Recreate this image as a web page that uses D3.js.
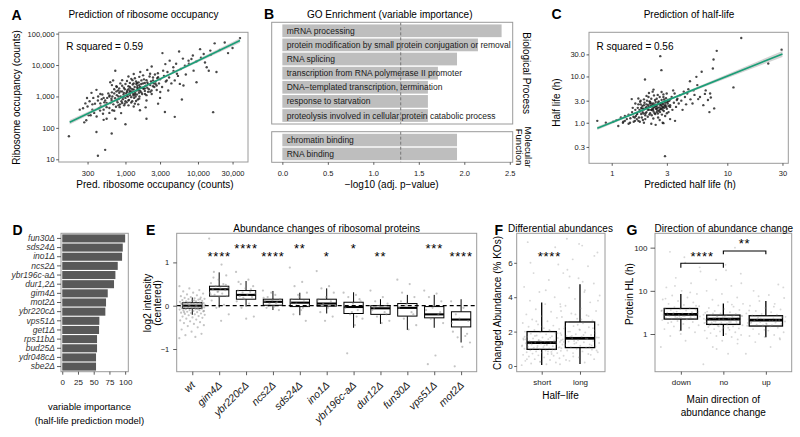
<!DOCTYPE html>
<html><head><meta charset="utf-8">
<script src="https://cdn.jsdelivr.net/npm/d3@7"></script>
<style>body{margin:0;background:#fff;}svg{display:block;}</style>
</head><body>
<script>
// ---------------- DATA ----------------
// Panel A: predicted vs observed ribosome occupancy (counts)
const occPoints = [[166,54],[234,380],[295,890],[288,174],[331,251],[398,74],[417,13],[525,20],[398,1620],[417,740],[457,480],[490,280],[550,195],[646,66],[447,355],[380,590],[525,740],[550,457],[603,1070],[646,740],[661,363],[724,195],[759,740],[676,3240],[759,2000],[724,6600],[617,2820],[794,1550],[832,457],[871,295],[933,955],[977,590],[1047,1380],[1096,740],[1148,2000],[1202,3630],[1288,1070],[1349,590],[1413,2510],[1514,1550],[1549,851],[1585,363],[1660,3240],[1778,1740],[1862,1200],[1950,741],[2042,2510],[2188,5250],[2291,1550],[2399,3240],[2692,2240],[2818,4070],[3020,1380],[3311,6610],[3548,10700],[3236,24000],[3715,3240],[3890,1550],[4074,13800],[4571,8510],[5129,5250],[5495,27000],[4786,3240],[5623,2510],[6310,2240],[6607,9550],[7413,13800],[8128,15500],[8710,6610],[9550,2820],[10700,32000],[12000,22400],[13200,8500],[14800,28800],[14100,6600],[17000,49000],[16200,316],[4786,224],[2818,589],[1950,195],[23400,52000],[38000,72000],
[260,420],[280,600],[300,480],[320,700],[350,560],[370,300],[360,900],[340,1300],[310,250],[270,150],[420,1000],[430,420],[450,600],[470,820],[480,1150],[500,380],[510,650],[530,520],[560,900],[580,1250],[600,430],[620,620],[640,850],[660,1000],[680,560],[700,1250],[720,880],[740,470],[760,1100],[780,650],[800,820],[820,1300],[840,560],[860,1000],[880,700],[900,1450],[920,820],[940,1150],[960,520],[980,1700],[1000,900],[1020,1250],[1040,650],[1060,1550],[1080,1000],[1100,2100],[1120,780],[1140,1350],[1160,1100],[1180,1800],[1200,950],[1220,1450],[1240,700],[1260,2400],[1280,1200],[1300,1650],[1320,900],[1340,2000],[1360,1300],[1380,1000],[1400,3000],[1420,1550],[1440,1150],[1460,2200],[1480,800],[1500,1800],[1520,2800],[1540,1300],[1560,1000],[1580,2000],[1600,1500],[1650,2500],[1700,1200],[1750,1900],[1800,3500],[1850,1500],[1900,2200],[1950,1100],[2000,2800],[2100,1700],[2200,2300],[2300,1200],[2400,4000],[2500,2000],[2600,3000],[2700,1600],[2800,5500],[2900,2600],[3000,3500],[3200,2000],[3400,4500],[3600,3000],[3800,6000],[4000,4000],[4300,2600],[4600,6500],[5000,11000],[5300,4500],[5800,7500],[6200,16000],[6800,5000],[7500,11000],[8500,20000],[9500,13000],[11000,17000],[12500,12000],[15000,21000],[18000,6000],[20000,30000],[26000,24000],[30000,35000],
[700,1700],[750,2100],[820,1800],[850,2600],[900,2200],[950,1900],[1000,2500],[1050,3100],[1100,1700],[1150,2700],[1250,3300],[1300,2600],[1350,3800],[1450,2700],[1550,4200],[1650,1900],[1750,4700],[1850,2700],[1950,3300],[2050,1400],[2150,4300],[2250,3000],[2450,2600],[2550,5000],[2750,3800],[600,1000],[650,1350],[750,1450],[800,1000],[850,1450],[950,1300],[1050,1050],[1150,1500],[1250,1700],[1350,1150],[1450,1900],[1550,2300],[1650,1350],[1750,2600],[1850,1800],[2000,1900],[2200,1400],[2400,2100],[2600,2500],[800,520],[900,620],[1000,700],[1100,520],[1200,640],[1300,480],[1400,720],[1500,560],[700,350],[600,300],[550,620],[500,900],[450,1200],[650,2300],[900,3300],[1100,4300],[1300,5200],[1600,6000],[2000,7000],[2300,9000],[1000,130],[1900,450],[3000,900],[3500,320],[6000,800],[400,230],[350,380],[500,180]];
const occFit = [{x:170,fit:150,lo:127,hi:177},{x:1500,fit:1670,lo:1600,hi:1745},{x:38000,fit:60000,lo:51000,hi:70500}];
const rSquaredA = "0.59";
const occXTicks = [300,1000,3000,10000,30000];
const occYTicks = [10,100,1000,10000,100000];

// Panel B: GO enrichment
const bpTerms = ["mRNA processing","protein modification by small protein conjugation or removal","RNA splicing","transcription from RNA polymerase II promoter","DNA\u2212templated transcription, termination","response to starvation","proteolysis involved in cellular protein catabolic process"];
const bpValues = [2.41,2.15,1.92,1.71,1.60,1.60,1.60];
const mfTerms = ["chromatin binding","RNA binding"];
const mfValues = [1.92,1.92];
const goThreshold = 1.301;
const goXTicks = [0,0.5,1,1.5,2,2.5];

// Panel C: predicted vs observed half-life (h)
const hlPoints = [[0.75,1.10],[0.89,1.0],[1.03,1.05],[1.14,0.85],[1.10,1.14],[1.26,1.05],[1.35,1.2],[1.44,1.0],[1.54,1.35],[1.59,1.1],[1.65,1.59],[1.49,3.24],[1.70,3.35],[1.76,2.84],[1.82,2.04],[1.88,1.59],[1.90,1.0],[1.94,8.6],[2.0,2.2],[2.08,3.6],[2.14,2.6],[2.21,1.88],[2.26,4.7],[2.29,1.24],[2.37,3.1],[2.45,2.29],[2.51,1.59],[2.63,27.5],[2.69,13.7],[2.76,1.0],[2.8,3.6],[2.89,0.19],[2.99,4.3],[3.09,3.1],[3.2,2.2],[3.4,5.0],[3.53,1.1],[3.66,3.1],[3.9,3.95],[4.2,4.7],[4.5,4.3],[4.75,7.9],[5.1,5.0],[5.4,9.8],[5.6,3.24],[6.0,12.6],[6.4,4.2],[6.8,3.1],[7.1,4.3],[7.5,14.9],[7.6,23.3],[7.7,2.04],[8.1,35.8],[11.3,5.8],[13.2,68],[22.6,19],[29.5,38],
[1.2,1.3],[1.3,1.1],[1.4,1.5],[1.45,1.25],[1.5,1.7],[1.55,1.05],[1.6,1.9],[1.62,1.4],[1.68,2.1],[1.72,1.3],[1.75,1.75],[1.78,2.5],[1.8,1.55],[1.84,2.3],[1.86,1.15],[1.9,1.95],[1.92,2.7],[1.95,1.45],[1.97,2.1],[2.0,1.7],[2.02,3.0],[2.05,1.35],[2.07,2.4],[2.1,1.9],[2.12,2.9],[2.15,1.6],[2.18,2.3],[2.2,3.3],[2.22,1.45],[2.25,2.0],[2.28,2.6],[2.3,1.75],[2.32,3.9],[2.35,2.2],[2.38,1.55],[2.4,2.8],[2.42,2.0],[2.45,3.3],[2.48,1.85],[2.5,2.5],[2.52,1.3],[2.55,2.9],[2.58,2.15],[2.6,3.6],[2.62,1.7],[2.65,2.4],[2.68,2.0],[2.7,3.1],[2.72,1.5],[2.75,2.6],[2.78,2.2],[2.8,4.1],[2.82,1.8],[2.85,2.9],[2.88,2.3],[2.9,1.4],[2.95,3.4],[3.0,2.0],[3.05,2.6],[3.1,1.7],[3.15,3.0],[3.2,2.4],[3.3,3.6],[3.35,1.9],[3.45,2.7],[3.5,4.3],[3.6,2.2],[3.7,3.3],[3.8,2.6],[4.0,3.0],[4.1,1.9],[4.3,3.6],[4.4,2.5],[4.6,5.3],[4.8,3.2],[5.0,2.6],[5.2,4.0],[5.5,6.5],[5.8,3.6],[6.2,2.4],[6.5,5.0],[7.0,1.7],[7.2,3.5],
[1.65,1.2],[1.7,2.5],[1.75,1.05],[1.8,2.1],[1.85,1.7],[1.9,2.4],[1.95,1.2],[2.0,2.5],[2.05,1.9],[2.1,2.2],[2.15,2.8],[2.2,1.9],[2.25,2.4],[2.3,2.1],[2.35,1.6],[2.4,2.3],[2.45,1.7],[2.5,2.1],[2.55,1.8],[2.6,2.5],[2.65,2.0],[2.7,2.3],[2.75,1.9],[2.8,2.5],[2.85,2.1],[2.9,2.7],[2.95,2.2],[3.0,2.8],[3.1,2.3],[3.2,3.2],[1.58,1.3],[1.66,1.55],[1.74,1.9],[1.82,1.3],[1.88,2.0],[1.96,1.6],[2.04,2.1],[2.12,1.5],[2.2,2.6],[2.28,1.9],[2.36,2.5],[2.44,2.0],[2.52,2.7],[2.6,1.9],[2.68,2.6],[2.76,2.1],[2.84,3.2],[2.92,2.4],[3.0,1.6],[3.08,2.9],[1.52,2.1],[1.6,2.6],[1.7,1.1],[1.78,3.0],[1.9,3.2],[2.0,3.8],[2.1,4.4],[2.3,5.2],[2.5,4.0],[2.7,4.6],[2.2,0.95],[2.4,0.9],[2.6,1.15],[2.8,0.98],[3.2,1.2],[1.4,0.95],[1.3,1.4],[1.25,1.0]];
const hlFit = [{x:0.75,fit:0.76,lo:0.70,hi:0.83},{x:2.5,fit:2.53,lo:2.45,hi:2.61},{x:30,fit:30.6,lo:26.5,hi:35.5}];
const rSquaredC = "0.56";
const hlXTicks = [1,3,10,30];
const hlYTicks = [0.3,1,3,10,30];

// Panel D: variable importance
const koNames = ["fun30\u0394","sds24\u0394","ino1\u0394","ncs2\u0394","ybr196c-a\u0394","dur1,2\u0394","gim4\u0394","mot2\u0394","ybr220c\u0394","vps51\u0394","get1\u0394","rps11b\u0394","bud25\u0394","ydr048c\u0394","sbe2\u0394"];
const koImportance = [100,96.2,95.1,88.2,84.5,82.3,72.3,69.6,68.5,59,58.5,55.3,55.3,53.7,53.7];
const impTicks = [0,25,50,75,100];

// Panel E: abundance changes of ribosomal proteins
const eStrains = ["wt","gim4\u0394","ybr220c\u0394","ncs2\u0394","sds24\u0394","ino1\u0394","ybr196c-a\u0394","dur12\u0394","fun30\u0394","vps51\u0394","mot2\u0394"];
const eQ1  = [-0.06,0.22,0.15,0.01,-0.02,-0.01,-0.18,-0.20,-0.24,-0.28,-0.49];
const eMed = [0.0,0.38,0.25,0.09,0.07,0.05,-0.03,-0.06,-0.05,-0.20,-0.32];
const eQ3  = [0.07,0.45,0.35,0.15,0.15,0.15,0.08,0.0,0.05,-0.02,-0.14];
const eLow = [-0.21,-0.04,-0.02,-0.10,-0.22,-0.18,-0.51,-0.42,-0.56,-0.51,-0.85];
const eHigh= [0.19,0.77,0.57,0.34,0.30,0.40,0.31,0.15,0.25,0.25,0.15];
const eStars = ["","****","****","****","**","*","*","**","","***","****"];
const eStarLevel = [0,1.21,1.40,1.21,1.40,1.21,1.40,1.21,0,1.40,1.21];
const ePoints = [
 [-0.75,-0.72,-0.68,-0.65,-0.6,-0.55,-0.5,-0.47,-0.45,-0.42,-0.4,-0.38,-0.36,-0.34,-0.32,-0.3,-0.28,-0.27,-0.25,-0.24,-0.22,-0.21,-0.2,-0.19,-0.18,-0.17,-0.16,-0.15,-0.14,-0.13,-0.12,-0.11,-0.1,-0.1,-0.09,-0.08,-0.08,-0.07,-0.06,-0.06,-0.05,-0.05,-0.04,-0.04,-0.03,-0.03,-0.02,-0.02,-0.01,-0.01,0,0,0,0.01,0.01,0.02,0.02,0.03,0.03,0.04,0.04,0.05,0.05,0.06,0.06,0.07,0.07,0.08,0.09,0.1,0.1,0.11,0.12,0.13,0.14,0.15,0.16,0.17,0.18,0.19,0.2,0.22,0.24,0.26,0.28,0.3,0.33,0.36,0.4,0.45,-0.05,0.0,0.03,-0.02,0.05,-0.08,0.08,-0.12,0.12,-0.15,0.15],
 [1.55,0.95,0.78,0.7,0.6,0.52,0.5,0.45,0.42,0.4,0.38,0.36,0.32,0.3,0.28,0.25,0.22,0.2,0.12,0.02,-0.05,-0.2,-0.35,0.65,0.48,0.33,0.26],
 [0.78,0.6,0.5,0.45,0.4,0.35,0.32,0.3,0.28,0.25,0.22,0.2,0.15,0.1,0.05,-0.05,-0.25,-0.3,0.55,0.38,0.18],
 [0.35,0.25,0.2,0.15,0.12,0.1,0.08,0.05,0.02,-0.02,-0.05,-0.1,0.3,0.18,0.06,0.0],
 [0.88,0.55,0.45,0.3,0.2,0.15,0.1,0.05,0.0,-0.1,-0.2,-0.35,0.25,0.08,-0.05],
 [0.8,0.45,0.4,0.3,0.2,0.15,0.1,0.05,0.0,-0.05,-0.15,-0.25,-0.35,0.12,0.02],
 [0.3,0.25,0.2,0.1,0.05,-0.05,-0.1,-0.2,-0.3,-0.45,-1.1,0.15,-0.15,0.0,-0.25],
 [0.35,0.2,0.1,0.05,0.0,-0.1,-0.15,-0.25,-0.35,-0.4,-0.05,-0.2],
 [0.6,0.5,0.3,0.2,0.05,-0.05,-0.15,-0.3,-0.45,-0.55,0.1,-0.2,0.0],
 [0.35,0.28,0.2,0.1,0.0,-0.1,-0.2,-0.3,-0.4,-1.15,-1.35,-0.15,-0.05],
 [0.1,-0.05,-0.2,-0.35,-0.5,-0.6,-0.7,-0.73,-0.85,-0.95,-1.4,-0.65,-0.3,-0.4]
];
const eYTicks = [-1,0,1];

// Panel F: differential abundances by half-life class
const fGroups = ["short","long"];
const fQ1 = [0.97,1.07], fMed = [1.36,1.61], fQ3 = [2.0,2.56], fLow = [0.06,0.12], fHigh = [3.69,4.76];
const fStarText = "****", fStarPos = 1.2, fStarLevel = 6.55;
const fPoints = [
 [0.05,0.1,0.15,0.2,0.25,0.3,0.35,0.4,0.45,0.5,0.55,0.6,0.62,0.65,0.7,0.72,0.75,0.78,0.8,0.82,0.85,0.88,0.9,0.92,0.95,0.97,1.0,1.02,1.05,1.07,1.1,1.12,1.15,1.17,1.2,1.22,1.25,1.27,1.3,1.32,1.35,1.37,1.4,1.42,1.45,1.48,1.5,1.53,1.56,1.6,1.63,1.66,1.7,1.73,1.77,1.8,1.84,1.88,1.92,1.96,2.0,2.05,2.1,2.15,2.2,2.28,2.35,2.42,2.5,2.6,2.7,2.8,2.9,3.0,3.15,3.3,3.45,3.6,3.8,4.0,4.3,4.6,5.0,5.4,5.9,6.5,7.2,0.95,1.05,1.15,1.25,1.33,1.38,1.45,1.55,1.65,1.75,1.1,1.2,1.3,1.4,1.5,1.6,0.85,1.0,1.9,2.3,0.4,0.7,2.6,3.2,4.4,6.0,6.9,0.25,1.7,2.1],
 [0.1,0.2,0.3,0.4,0.5,0.6,0.7,0.75,0.8,0.85,0.9,0.95,1.0,1.03,1.07,1.1,1.14,1.18,1.22,1.26,1.3,1.34,1.38,1.42,1.46,1.5,1.54,1.58,1.62,1.66,1.7,1.75,1.8,1.85,1.9,1.95,2.0,2.06,2.12,2.18,2.25,2.32,2.4,2.48,2.56,2.65,2.75,2.85,2.95,3.05,3.2,3.35,3.5,3.7,3.9,4.1,4.3,4.55,4.8,5.1,5.4,5.8,6.2,6.6,7.0,7.4,1.2,1.35,1.5,1.6,1.7,1.9,2.1,2.3,1.1,1.45,1.65,1.8,2.0,2.2,2.4,1.25,1.55,1.75,0.9,2.7,0.35,0.65,3.0,3.6,4.4,5.2,6.4,7.1,1.4,2.9,0.55,3.8,4.9,5.6]
];
const fYTicks = [0,2,4,6];

// Panel G: protein half-life by direction of abundance change
const gGroups = ["down","no","up"];
const gQ1 = [2.22,1.67,1.53], gMed = [2.84,2.22,2.1], gQ3 = [3.9,2.74,2.65], gLow = [1.19,0.9,0.84], gHigh = [8.4,5.1,5.8];
const gComparisons = [{from:"down",to:"no",stars:"****",bar:43.5,tip:34.4,label:74},{from:"no",to:"up",stars:"**",bar:83.8,tip:70.3,label:150}];
const gPoints = [
 [0.5,0.7,0.9,1.1,1.2,1.3,1.4,1.5,1.6,1.7,1.8,1.9,2.0,2.1,2.2,2.25,2.3,2.35,2.4,2.45,2.5,2.55,2.6,2.65,2.7,2.75,2.8,2.85,2.9,2.95,3.0,3.1,3.2,3.3,3.4,3.5,3.6,3.7,3.8,3.9,4.0,4.2,4.4,4.7,5.0,5.4,5.8,6.3,7.0,7.8,8.5,10,12,15,20,28,45,80,2.3,2.5,2.7,2.9,3.1,3.3,2.6,2.8,3.0,2.4,3.5,2.2,1.9,4.5,1.0,6.6,9.2,13,35,60],
 [0.2,0.35,0.5,0.6,0.7,0.8,0.85,0.9,0.95,1.0,1.05,1.1,1.15,1.2,1.25,1.3,1.35,1.4,1.45,1.5,1.55,1.6,1.65,1.7,1.75,1.8,1.85,1.9,1.95,2.0,2.05,2.1,2.15,2.2,2.25,2.3,2.35,2.4,2.45,2.5,2.55,2.6,2.65,2.7,2.8,2.9,3.0,3.1,3.2,3.4,3.6,3.8,4.0,4.3,4.6,5.0,5.5,6.2,7.0,8.5,10,13,18,25,40,70,100,1.7,1.8,1.9,2.0,2.1,2.2,2.3,2.4,2.5,2.6,1.75,1.85,1.95,2.05,2.15,2.25,2.35,2.45,2.55,1.6,2.7,1.5,2.8,1.4,3.0,0.75,1.25,3.3,4.8,0.45,15,30],
 [0.35,0.5,0.65,0.75,0.85,0.9,0.95,1.0,1.1,1.2,1.3,1.4,1.5,1.55,1.6,1.65,1.7,1.75,1.8,1.85,1.9,1.95,2.0,2.05,2.1,2.15,2.2,2.3,2.4,2.5,2.6,2.7,2.8,2.9,3.0,3.2,3.4,3.7,4.0,4.5,5.0,5.8,6.8,8,10,14,1.6,1.8,2.0,2.2,2.4,1.7,1.9,2.1,2.3,2.5,1.5,2.6,0.8,1.25,3.5,4.3,7.5,12]
];
const gYTicks = [1,10,100];

// ---------------- DRAWING ----------------
const FF = '"Liberation Sans", Arial, Helvetica, sans-serif';
const svg = d3.select("body").append("svg").attr("width",800).attr("height",437).attr("font-family",FF);

function txt(g, x, y, s, o = {}) {
  const t = g.append("text").attr("x", x).attr("y", y).text(s)
    .attr("font-size", o.size || 10).attr("fill", o.fill || "#000")
    .attr("text-anchor", o.anchor || "start");
  if (o.weight) t.attr("font-weight", o.weight);
  if (o.style) t.attr("font-style", o.style);
  if (o.rotate) t.attr("transform", `rotate(${o.rotate},${x},${y})`);
  if (o.ls) t.attr("letter-spacing", o.ls);
  return t;
}
function styleAxis(g, size, italic) {
  g.attr("font-family", FF).attr("font-size", size);
  g.select(".domain").remove();
  g.selectAll(".tick line").attr("stroke", "#333").attr("stroke-width", 0.8);
  g.selectAll(".tick text").attr("fill", "#1a1a1a");
  if (italic) g.selectAll(".tick text").attr("font-style", "italic");
  return g;
}
function frame(g, P) {
  g.append("rect").attr("x", P.l).attr("y", P.t).attr("width", P.r - P.l).attr("height", P.b - P.t)
    .attr("fill", "none").attr("stroke", "#9a9a9a").attr("stroke-width", 1);
}
const jit = i => ((i * 0.6180339887) % 1) - 0.5;

// ---- Panel letters & titles ----
[["A",11.5,20],["B",264,18.5],["C",551.5,18.5],["D",12.5,235],["E",146,235],["F",494.5,235],["G",626.5,235]]
  .forEach(([s,x,y]) => txt(svg, x, y, s, {size:14, weight:"bold"}));

// ---- Scatter panels (A, C) ----
function scatterPanel(P, xs, ys, pts, fit, xt, yt, xf, yf, r2, xpad) {
  const g = svg.append("g");
  g.selectAll("circle").data(pts).join("circle")
    .attr("cx", d => xs(d[0])).attr("cy", d => ys(d[1])).attr("r", 1.2)
    .attr("fill", "#1a1a1a").attr("fill-opacity", 0.8);
  g.append("path").datum(fit)
    .attr("d", d3.area().x(d => xs(d.x)).y0(d => ys(d.lo)).y1(d => ys(d.hi)))
    .attr("fill", "#b5b5b5").attr("fill-opacity", 0.6);
  g.append("path").datum(fit)
    .attr("d", d3.line().x(d => xs(d.x)).y(d => ys(d.fit)))
    .attr("fill", "none").attr("stroke", "#1b9e77").attr("stroke-width", 1.7);
  frame(g, P);
  styleAxis(g.append("g").attr("transform", `translate(0,${P.b})`)
    .call(d3.axisBottom(xs).tickValues(xt).tickFormat(xf).tickSize(2.5).tickPadding(xpad)), 7.5);
  styleAxis(g.append("g").attr("transform", `translate(${P.l},0)`)
    .call(d3.axisLeft(ys).tickValues(yt).tickFormat(yf).tickSize(2.5).tickPadding(1.5)), 7.5);
  txt(g, P.l + 7.5, 50, `R squared = ${r2}`, {size:10});
  return g;
}
const PA = {l:58.7, t:32.3, r:248, b:162};
const ax = d3.scaleLog().domain([120, 49000]).range([PA.l, PA.r]);
const ay = d3.scaleLog().domain([8.2, 110000]).range([PA.b, PA.t]);
scatterPanel(PA, ax, ay, occPoints, occFit, occXTicks, occYTicks, d3.format(","), d3.format(","), rSquaredA, 6);
txt(svg, 143.5, 17.5, "Prediction of ribosome occupancy", {size:10, anchor:"middle"});
txt(svg, 155, 188, "Pred. ribosome occupancy (counts)", {size:10, anchor:"middle"});
txt(svg, 20, 97.5, "Ribosome occupancy (counts)", {size:10, anchor:"middle", rotate:-90});

const PC = {l:589, t:32.3, r:788.3, b:163.3};
const cx = d3.scaleLog().domain([0.636, 33.7]).range([PC.l, PC.r]);
const cy = d3.scaleLog().domain([0.133, 90]).range([PC.b, PC.t]);
scatterPanel(PC, cx, cy, hlPoints, hlFit, hlXTicks, hlYTicks, d3.format("d"), d3.format(".1f"), rSquaredC, 5);
txt(svg, 689, 17.5, "Prediction of half-life", {size:10, anchor:"middle"});
txt(svg, 690, 188, "Predicted half life (h)", {size:10, anchor:"middle"});
txt(svg, 560, 102.5, "Half life (h)", {size:10, anchor:"middle", rotate:-90});

// ---- Panel B ----
{
  const g = svg.append("g");
  const PU = {l:271.7, t:22.3, r:512.7, b:124};
  const PL = {l:271.7, t:131.7, r:512.7, b:162.3};
  const bx = d3.scaleLinear().domain([-0.117, 2.532]).range([PU.l, PU.r]);
  const yU = d3.scaleBand().domain(bpTerms).range([PU.t, PU.b]).paddingInner(0.1).paddingOuter(0.15);
  const yL = d3.scaleBand().domain(mfTerms).range([PL.t, PL.b]).paddingInner(0.1).paddingOuter(0.15);
  const draw = (terms, vals, ys) => {
    terms.forEach((t, i) => {
      g.append("rect").attr("x", bx(0)).attr("y", ys(t)).attr("width", bx(vals[i]) - bx(0))
        .attr("height", ys.bandwidth()).attr("fill", "#bebebe");
      txt(g, bx(0) + 4.4, ys(t) + ys.bandwidth() / 2 + 3, t, {size:8.5, fill:"#1a1a1a"});
    });
  };
  draw(bpTerms, bpValues, yU);
  draw(mfTerms, mfValues, yL);
  [PU, PL].forEach(P => {
    g.append("line").attr("x1", bx(goThreshold)).attr("x2", bx(goThreshold)).attr("y1", P.t).attr("y2", P.b)
      .attr("stroke", "#777").attr("stroke-width", 1).attr("stroke-dasharray", "3,2");
    frame(g, P);
  });
  styleAxis(g.append("g").attr("transform", `translate(0,${PL.b})`)
    .call(d3.axisBottom(bx).tickValues(goXTicks).tickFormat(d3.format(".1f")).tickSize(2.5).tickPadding(5.8)), 7.5);
  txt(g, 389.7, 17.5, "GO Enrichment (variable importance)", {size:10, anchor:"middle"});
  txt(g, 391.7, 188, "\u2212log10 (adj. p\u2212value)", {size:10, anchor:"middle"});
  txt(g, 523, (PU.t + PU.b) / 2, "Biological Process", {size:10, anchor:"middle", rotate:90});
  txt(g, 525, (PL.t + PL.b) / 2, "Molecular", {size:9.5, anchor:"middle", rotate:90});
  txt(g, 515.5, (PL.t + PL.b) / 2, "Function", {size:9.5, anchor:"middle", rotate:90});
}

// ---- Panel D ----
{
  const g = svg.append("g");
  const P = {l:61, t:233.3, r:128.3, b:371.7};
  const dx = d3.scaleLinear().domain([-2, 105]).range([P.l, P.r]);
  const dy = d3.scaleBand().domain(koNames).range([P.t, P.b]).padding(0.12);
  g.selectAll("rect.bar").data(koNames).join("rect").attr("class", "bar")
    .attr("x", dx(0)).attr("y", d => dy(d)).attr("width", (d, i) => dx(koImportance[i]) - dx(0))
    .attr("height", dy.bandwidth()).attr("fill", "#595959");
  frame(g, P);
  styleAxis(g.append("g").attr("transform", `translate(${P.l},0)`)
    .call(d3.axisLeft(dy).tickSize(4).tickPadding(2)), 8.5, true);
  g.selectAll(".tick text").attr("fill", "#333");
  styleAxis(g.append("g").attr("transform", `translate(0,${P.b})`)
    .call(d3.axisBottom(dx).tickValues(impTicks).tickSize(3).tickPadding(5)), 8);
  txt(g, 89.5, 410, "variable  importance", {size:9.5, anchor:"middle"});
  txt(g, 89.5, 424, "(half-life prediction model)", {size:9.5, anchor:"middle"});
}

// ---- Boxplot helper ----
function drawBoxes(g, xs, ys, cats, q1, med, q3, lo, hi, bw, sw) {
  cats.forEach((c, i) => {
    const x = xs(c);
    g.append("line").attr("x1", x).attr("x2", x).attr("y1", ys(hi[i])).attr("y2", ys(q3[i])).attr("stroke", "#000").attr("stroke-width", sw);
    g.append("line").attr("x1", x).attr("x2", x).attr("y1", ys(q1[i])).attr("y2", ys(lo[i])).attr("stroke", "#000").attr("stroke-width", sw);
    g.append("rect").attr("x", x - bw / 2).attr("y", ys(q3[i])).attr("width", bw).attr("height", ys(q1[i]) - ys(q3[i]))
      .attr("fill", "#fff").attr("stroke", "#000").attr("stroke-width", sw);
    g.append("line").attr("x1", x - bw / 2).attr("x2", x + bw / 2).attr("y1", ys(med[i])).attr("y2", ys(med[i]))
      .attr("stroke", "#000").attr("stroke-width", sw * 2.1);
  });
}
function drawJitter(g, xs, ys, cats, pts, widths, r, fill, op) {
  cats.forEach((c, k) => {
    const w = Array.isArray(widths) ? widths[k] : widths;
    g.append("g").selectAll("circle").data(pts[k]).join("circle")
      .attr("cx", (d, i) => xs(c) + jit(i) * w).attr("cy", d => ys(d)).attr("r", r)
      .attr("fill", fill).attr("fill-opacity", op);
  });
}

// ---- Panel E ----
{
  const g = svg.append("g");
  const P = {l:176.7, t:233.3, r:476.7, b:371.7};
  const ex = d3.scalePoint().domain(eStrains).range([P.l, P.r]).padding(0.58);
  const ey = d3.scaleLinear().domain([-1.524, 1.672]).range([P.b, P.t]);
  drawBoxes(g, ex, ey, eStrains, eQ1, eMed, eQ3, eLow, eHigh, 19.3, 1);
  drawJitter(g, ex, ey, eStrains, ePoints, eStrains.map((d, i) => i === 0 ? 26 : 20), 1.1, "#8a8a8a", 0.5);
  g.append("line").attr("x1", P.l).attr("x2", P.r).attr("y1", ey(0)).attr("y2", ey(0))
    .attr("stroke", "#000").attr("stroke-width", 1.3).attr("stroke-dasharray", "4,3");
  eStrains.forEach((s, i) => {
    if (eStars[i]) txt(g, ex(s), ey(eStarLevel[i]) + 7.5, eStars[i], {size:13, anchor:"middle", ls:0.8});
  });
  frame(g, P);
  const xa = styleAxis(g.append("g").attr("transform", `translate(0,${P.b})`)
    .call(d3.axisBottom(ex).tickSize(3.5)), 10.5, true);
  xa.selectAll(".tick text").attr("x", 0).attr("y", 0).attr("dy", 0)
    .attr("text-anchor", "end").attr("transform", "translate(3,14) rotate(-45)");
  styleAxis(g.append("g").attr("transform", `translate(${P.l},0)`)
    .call(d3.axisLeft(ey).tickValues(eYTicks).tickFormat(d3.format("d")).tickSize(3.5).tickPadding(4)), 7.5);
  txt(g, 326.7, 232, "Abundance changes of ribosomal proteins", {size:10, anchor:"middle"});
  txt(g, 150.5, 303, "log2 intensity", {size:10, anchor:"middle", rotate:-90});
  txt(g, 160.5, 303, "(centered)", {size:10, anchor:"middle", rotate:-90});
}

// ---- Panel F ----
{
  const g = svg.append("g");
  const P = {l:516.7, t:233.3, r:605, b:371.7};
  const fx = d3.scalePoint().domain(fGroups).range([P.l, P.r]).padding(0.653);
  const fy = d3.scaleLinear().domain([-0.331, 7.715]).range([P.b, P.t]);
  drawBoxes(g, fx, fy, fGroups, fQ1, fMed, fQ3, fLow, fHigh, 29.3, 1.3);
  drawJitter(g, fx, fy, fGroups, fPoints, 40, 0.95, "#8c8c8c", 0.35);
  const fpos = d3.scaleLinear().domain([1, 2]).range([fx("short"), fx("long")]);
  txt(g, fpos(fStarPos), fy(fStarLevel) + 7.5, fStarText, {size:13, anchor:"middle", ls:0.8});
  frame(g, P);
  styleAxis(g.append("g").attr("transform", `translate(0,${P.b})`)
    .call(d3.axisBottom(fx).tickSize(3).tickPadding(5)), 8);
  styleAxis(g.append("g").attr("transform", `translate(${P.l},0)`)
    .call(d3.axisLeft(fy).tickValues(fYTicks).tickSize(2.5).tickPadding(1.5)), 8);
  txt(g, 560.5, 232, "Differential abundances", {size:10, anchor:"middle"});
  txt(g, 560.5, 399, "Half\u2212life", {size:10, anchor:"middle"});
  txt(g, 501, 303, "Changed Abundance (% KOs)", {size:10, anchor:"middle", rotate:-90});
}

// ---- Panel G ----
{
  const g = svg.append("g");
  const P = {l:655, t:233.3, r:791.7, b:371.7};
  const gx = d3.scalePoint().domain(gGroups).range([P.l, P.r]).padding(0.608);
  const gy = d3.scaleLog().domain([0.134, 215]).range([P.b, P.t]);
  drawBoxes(g, gx, gy, gGroups, gQ1, gMed, gQ3, gLow, gHigh, 33.3, 1.3);
  drawJitter(g, gx, gy, gGroups, gPoints, 40, 0.95, "#8c8c8c", 0.35);
  gComparisons.forEach(c => {
    const x1 = gx(c.from), x2 = gx(c.to);
    g.append("path").attr("d", `M${x1},${gy(c.tip)}V${gy(c.bar)}H${x2}V${gy(c.tip)}`)
      .attr("fill", "none").attr("stroke", "#000").attr("stroke-width", 1.1);
    txt(g, (x1 + x2) / 2, gy(c.label) + 7.5, c.stars, {size:13, anchor:"middle", ls:0.8});
  });
  frame(g, P);
  styleAxis(g.append("g").attr("transform", `translate(0,${P.b})`)
    .call(d3.axisBottom(gx).tickSize(3).tickPadding(5)), 8);
  styleAxis(g.append("g").attr("transform", `translate(${P.l},0)`)
    .call(d3.axisLeft(gy).tickValues(gYTicks).tickFormat(d3.format("d")).tickSize(4.5).tickPadding(3)), 8);
  txt(g, 723.8, 232, "Direction of abundance change", {size:10, anchor:"middle"});
  txt(g, 632.5, 294, "Protein HL (h)", {size:10, anchor:"middle", rotate:-90});
  txt(g, 723.3, 403, "Main direction of", {size:10, anchor:"middle"});
  txt(g, 723.3, 415.5, "abundance change", {size:10, anchor:"middle"});
}
</script>
</body></html>
